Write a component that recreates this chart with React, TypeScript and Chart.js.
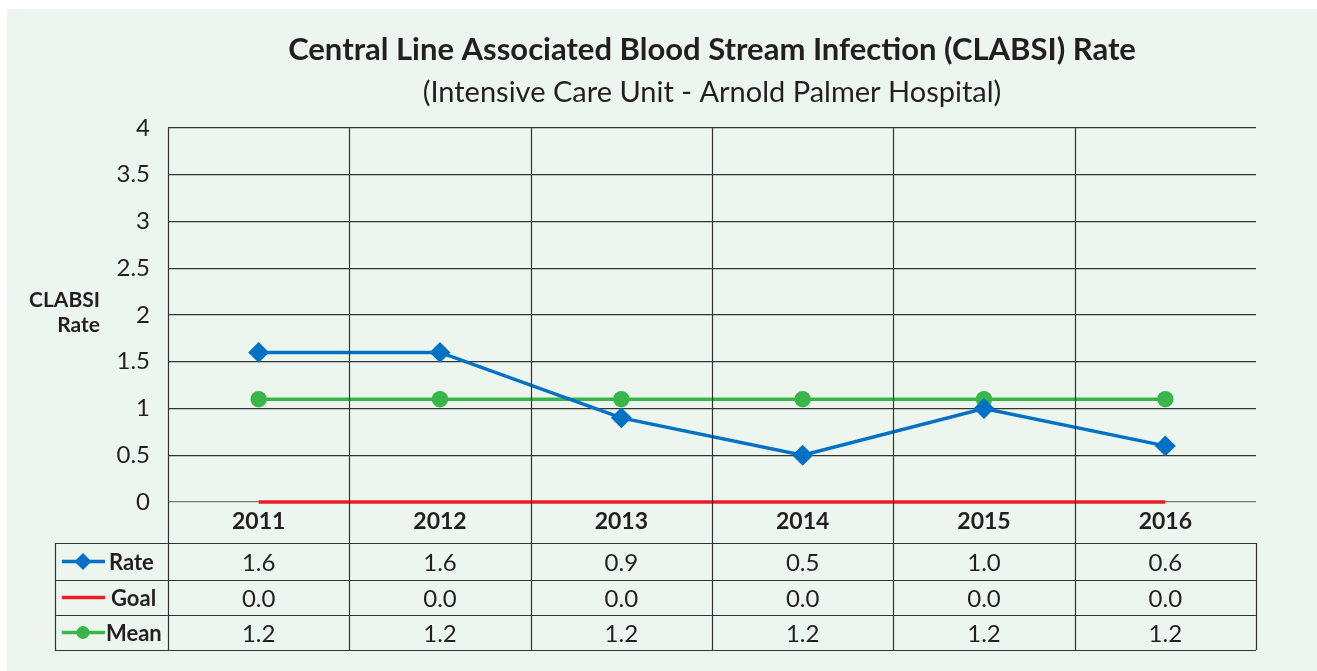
import React, { useEffect, useRef } from "react";
import { Chart, registerables } from "chart.js";

Chart.register(...registerables);

const years = ["2011", "2012", "2013", "2014", "2015", "2016"];
const rateValues = [1.6, 1.6, 0.9, 0.5, 1.0, 0.6];
const goalValues = [0, 0, 0, 0, 0, 0];
const meanValues = [1.1, 1.1, 1.1, 1.1, 1.1, 1.1];
const rateLabels = ["1.6", "1.6", "0.9", "0.5", "1.0", "0.6"];
const goalLabels = ["0.0", "0.0", "0.0", "0.0", "0.0", "0.0"];
const meanLabels = ["1.2", "1.2", "1.2", "1.2", "1.2", "1.2"];
const titleText = "Central Line Associated Blood Stream Infection (CLABSI) Rate";
const subtitleText = "(Intensive Care Unit - Arnold Palmer Hospital)";

const BLUE = "#0071C4";
const GREEN = "#3AB54A";
const RED = "#ED1C24";
const TEXT = "#231F20";
const LINE = "#333333";
const BG = "#ECF6EE";
const FONT = "Lato, 'Open Sans', sans-serif";

const decorPlugin = {
  id: "decor",
  beforeDraw(chart: any) {
    const { ctx } = chart;
    ctx.save();
    ctx.fillStyle = BG;
    ctx.fillRect(7, 9, chart.width - 7, chart.height - 9);
    ctx.restore();
  },
  afterDatasetsDraw(chart: any) {
    const { ctx, chartArea } = chart;
    const x = chart.scales.x;
    const step = x.getPixelForValue(1) - x.getPixelForValue(0);
    const top = chartArea.top;
    const bottom = chartArea.bottom;
    const rowTops = [bottom + 41, bottom + 78, bottom + 113, bottom + 148];
    const tableLeft = 55;
    const right = chartArea.right;

    ctx.save();
    // Title & subtitle
    ctx.fillStyle = TEXT;
    ctx.textAlign = "center";
    ctx.textBaseline = "middle";
    ctx.font = `bold 31px ${FONT}`;
    ctx.fillText(titleText, 712, 50);
    ctx.font = `29px ${FONT}`;
    ctx.fillText(subtitleText, 712, 93);

    // Axis title
    ctx.textAlign = "right";
    ctx.font = `bold 21px ${FONT}`;
    ctx.fillText("CLABSI", 100, 300);
    ctx.fillText("Rate", 100, 325);

    // Vertical lines
    ctx.strokeStyle = LINE;
    ctx.lineWidth = 1.2;
    ctx.beginPath();
    for (let i = 0; i < years.length; i++) {
      const bx = Math.round(x.getPixelForValue(i) - step / 2) + 0.5;
      ctx.moveTo(bx, top);
      ctx.lineTo(bx, rowTops[3]);
    }
    ctx.moveTo(Math.round(right) + 0.5, rowTops[0]);
    ctx.lineTo(Math.round(right) + 0.5, rowTops[3]);
    ctx.moveTo(tableLeft + 0.5, rowTops[0]);
    ctx.lineTo(tableLeft + 0.5, rowTops[3]);
    for (const ry of rowTops) {
      ctx.moveTo(tableLeft, Math.round(ry) + 0.5);
      ctx.lineTo(right, Math.round(ry) + 0.5);
    }
    ctx.stroke();

    // Table values
    const rows = [rateLabels, goalLabels, meanLabels];
    ctx.fillStyle = TEXT;
    ctx.textAlign = "center";
    ctx.textBaseline = "middle";
    ctx.font = `24px ${FONT}`;
    rows.forEach((row, r) => {
      const cy = (rowTops[r] + rowTops[r + 1]) / 2 + 2;
      row.forEach((v, i) => {
        ctx.fillText(v, x.getPixelForValue(i), cy);
      });
    });

    // Legend cells
    const legend = [
      { label: "Rate", color: BLUE, marker: "diamond", tx: 109 },
      { label: "Goal", color: RED, marker: "none", tx: 111 },
      { label: "Mean", color: GREEN, marker: "circle", tx: 106 },
    ];
    legend.forEach((item, r) => {
      const cy = (rowTops[r] + rowTops[r + 1]) / 2;
      ctx.strokeStyle = item.color;
      ctx.lineWidth = 3.5;
      ctx.beginPath();
      ctx.moveTo(62, cy);
      ctx.lineTo(105, cy);
      ctx.stroke();
      ctx.fillStyle = item.color;
      if (item.marker === "diamond") {
        ctx.beginPath();
        ctx.moveTo(83, cy - 8.5);
        ctx.lineTo(91.5, cy);
        ctx.lineTo(83, cy + 8.5);
        ctx.lineTo(74.5, cy);
        ctx.closePath();
        ctx.fill();
      } else if (item.marker === "circle") {
        ctx.beginPath();
        ctx.arc(83, cy, 6.5, 0, Math.PI * 2);
        ctx.fill();
      }
      ctx.fillStyle = TEXT;
      ctx.textAlign = "left";
      ctx.font = `bold 22px ${FONT}`;
      ctx.fillText(item.label, item.tx, cy + 1);
    });
    ctx.restore();
  },
};

export default function App() {
  const ref = useRef<HTMLCanvasElement | null>(null);
  useEffect(() => {
    document.body.style.margin = "0";
    const canvas = ref.current;
    if (!canvas) return;
    const chart = new Chart(canvas, {
      type: "line",
      data: {
        labels: years,
        datasets: [
          {
            label: "Rate",
            data: rateValues,
            borderColor: BLUE,
            backgroundColor: BLUE,
            borderWidth: 3.5,
            pointStyle: "rectRot",
            pointRadius: 8,
            pointHoverRadius: 8,
            clip: false,
            order: 0,
          },
          {
            label: "Goal",
            data: goalValues,
            borderColor: RED,
            backgroundColor: RED,
            borderWidth: 3.5,
            pointRadius: 0,
            clip: false,
            order: 2,
          },
          {
            label: "Mean",
            data: meanValues,
            borderColor: GREEN,
            backgroundColor: GREEN,
            borderWidth: 3.5,
            pointStyle: "circle",
            pointRadius: 6.5,
            clip: false,
            order: 1,
          },
        ],
      },
      plugins: [decorPlugin],
      options: {
        animation: false,
        responsive: false,
        maintainAspectRatio: false,
        layout: { padding: { left: 0, right: 61, top: 128, bottom: 128 } },
        plugins: {
          legend: { display: false },
          title: { display: false },
          tooltip: { enabled: false },
        },
        scales: {
          x: {
            type: "category",
            offset: true,
            grid: { display: false, drawTicks: false },
            border: { display: false },
            ticks: {
              color: TEXT,
              font: { family: FONT, size: 23, weight: "bold" },
              padding: 6,
              maxRotation: 0,
            },
            afterFit: (s: any) => {
              s.height = 41;
            },
          },
          y: {
            min: 0,
            max: 4,
            grid: {
              drawTicks: false,
              color: (c: any) => (c.tick && c.tick.value === 0 ? "#7a7a7a" : LINE),
              lineWidth: 1.2,
            },
            border: { display: false },
            ticks: {
              stepSize: 0.5,
              color: TEXT,
              font: { family: FONT, size: 24 },
              padding: 18,
              callback: (v: any) => `${v}`,
            },
            afterFit: (s: any) => {
              s.width = 168;
            },
          },
        },
      },
    } as any);
    return () => chart.destroy();
  }, []);
  return <canvas ref={ref} width={1317} height={671} style={{ display: "block" }} />;
}
